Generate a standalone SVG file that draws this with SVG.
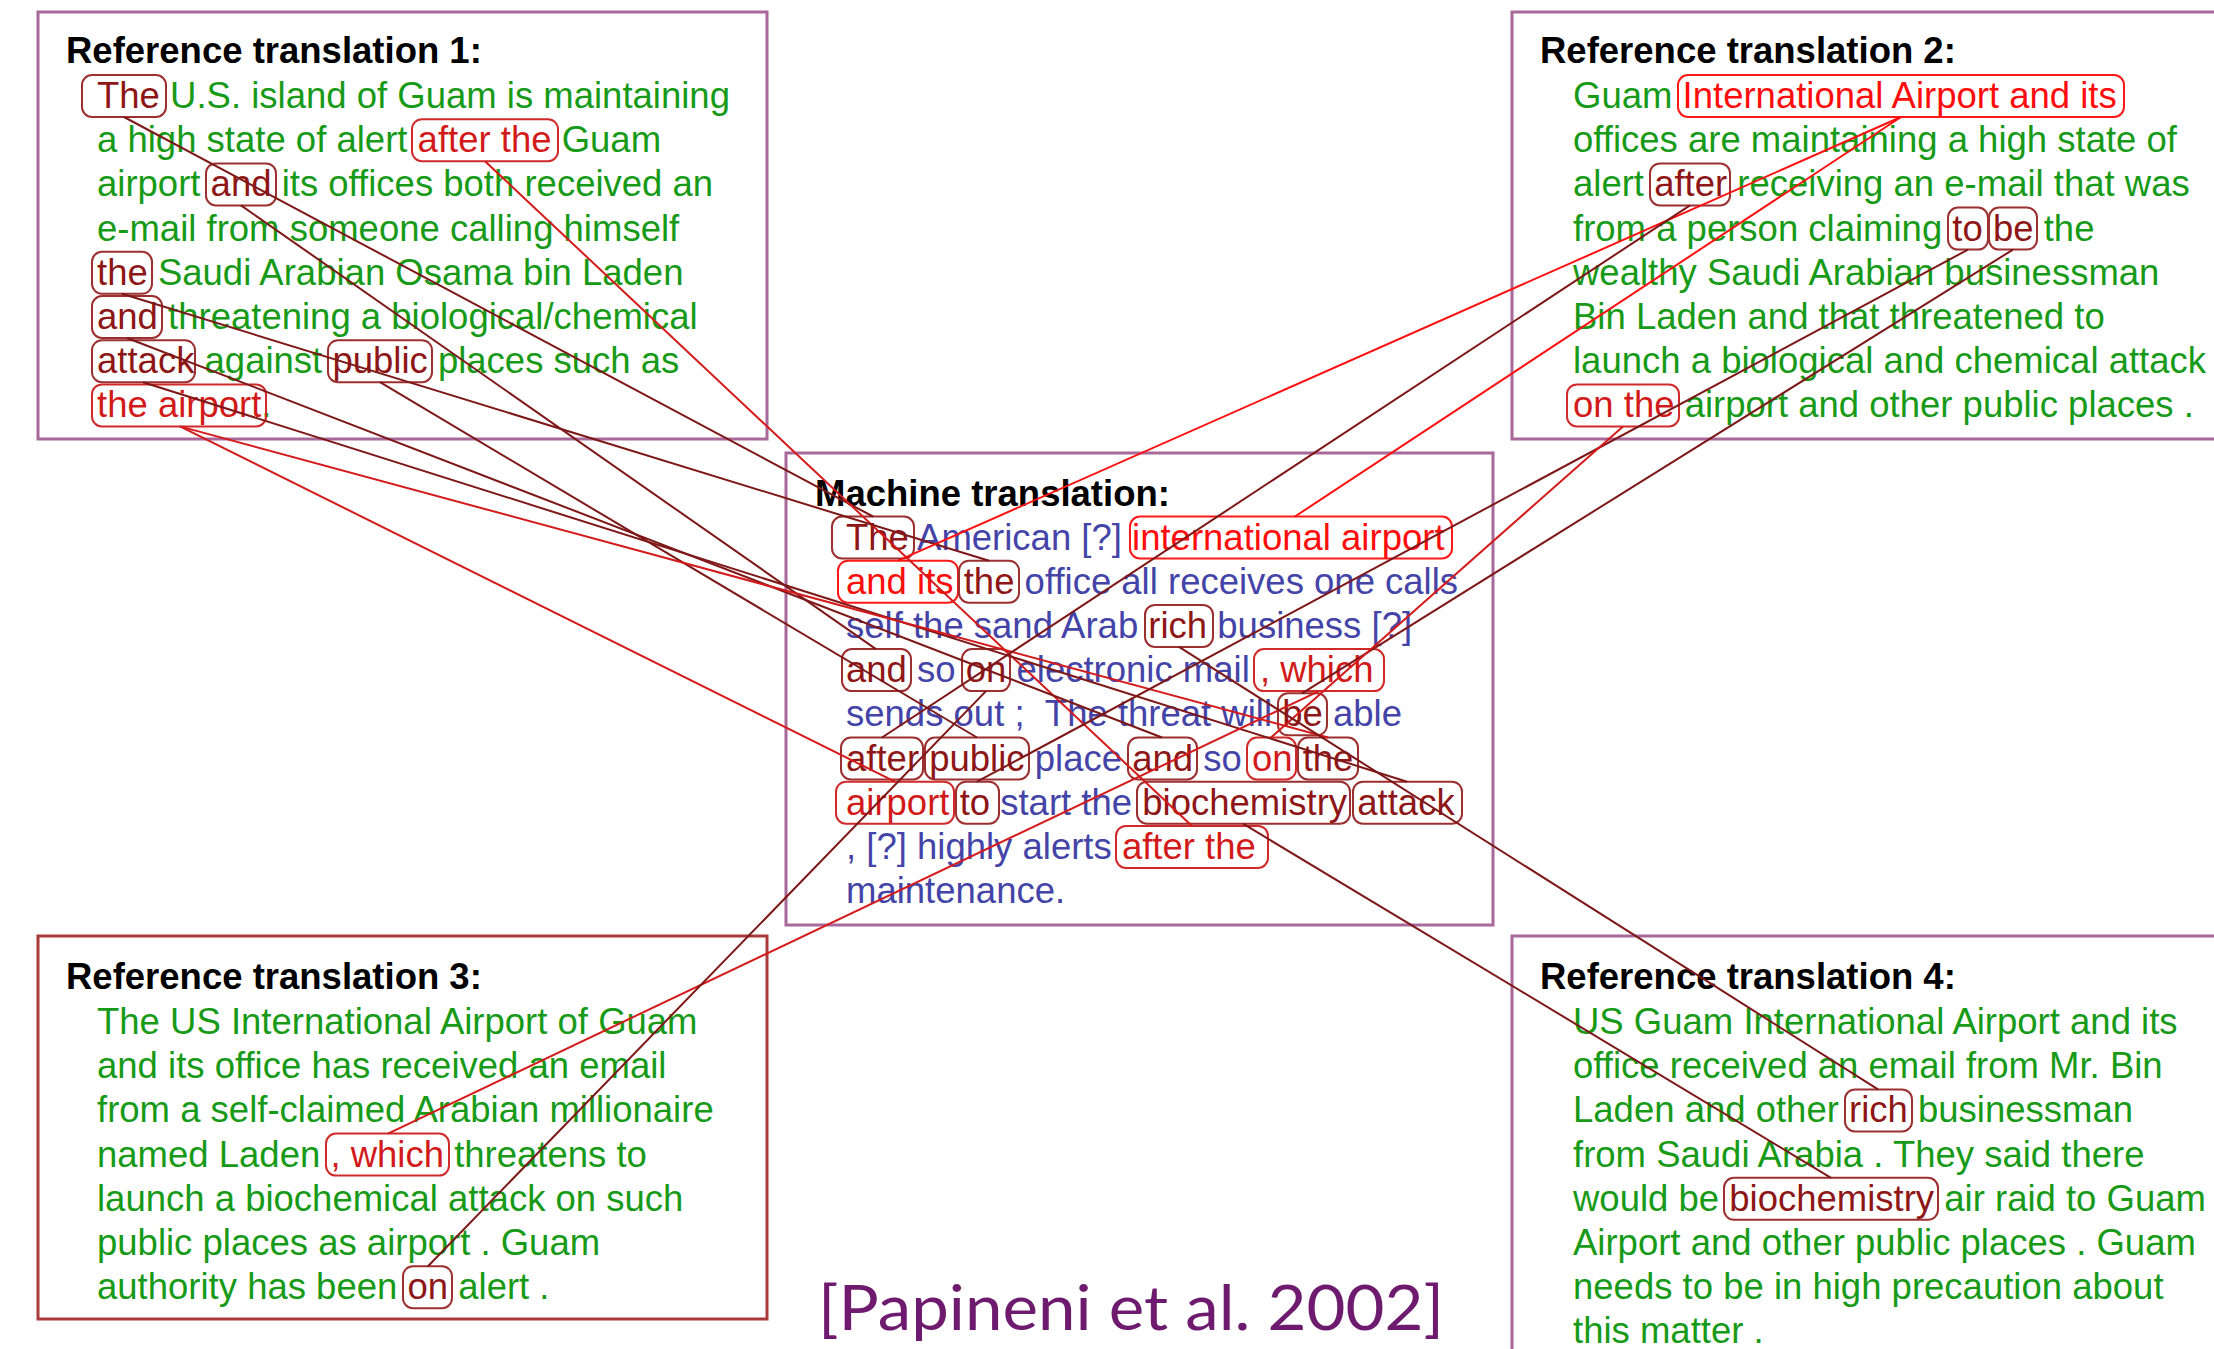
<svg xmlns="http://www.w3.org/2000/svg" width="2214" height="1349" viewBox="0 0 2214 1349">
  <style>
    .frame { fill: none; stroke: #a8689a; stroke-width: 3; }
    .frame3 { fill: none; stroke: #a83a3a; stroke-width: 3; }
    text { font-family: "Liberation Sans", Arial, sans-serif; font-size: 36.5px; }
    .title { font-weight: bold; fill: #000; }
    .ref { fill: #179a17; }
    .mt { fill: #4444a8; }
    .u { fill: #8e1616; }
    .b { fill: #d21a1a; }
    .q { fill: #ff0d0d; }
    rect.u { fill: none; stroke: #9c2f2f; stroke-width: 2; }
    rect.b { fill: none; stroke: #d02a2a; stroke-width: 2; }
    rect.q { fill: none; stroke: #ff1a1a; stroke-width: 2; }
    .cap { font-family: Lato, "Open Sans", sans-serif; font-size: 62px; fill: #6e1a6e; }
    #links line { stroke-width: 2; }
    #links .lu { stroke: #7e1717; }
    #links .lb { stroke: #d41a1a; }
    #links .lq { stroke: #ff1010; }
  </style>

  <!-- Reference translation 1 -->
  <g id="ref1">
    <rect class="frame" x="38" y="12" width="729" height="427"/>
    <text class="title" x="66" y="63">Reference translation 1:</text>
    <text class="ref" x="97" y="108"><tspan class="u">The</tspan> U.S. island of Guam is maintaining</text>
    <text class="ref" x="97" y="152.2">a high state of alert <tspan class="b">after the</tspan> Guam</text>
    <text class="ref" x="97" y="196.4">airport <tspan class="u">and</tspan> its offices both received an</text>
    <text class="ref" x="97" y="240.6">e-mail from someone calling himself</text>
    <text class="ref" x="97" y="284.8"><tspan class="u">the</tspan> Saudi Arabian Osama bin Laden</text>
    <text class="ref" x="97" y="329"><tspan class="u">and</tspan> threatening a biological/chemical</text>
    <text class="ref" x="97" y="373.2"><tspan class="u">attack</tspan> against <tspan class="u">public</tspan> places such as</text>
    <text class="ref" x="97" y="417.4"><tspan class="b">the airport</tspan>.</text>
    <rect class="u" x="82" y="75" width="84" height="42" rx="10"/>
    <rect class="b" x="412" y="119.2" width="146" height="42" rx="10"/>
    <rect class="u" x="206" y="163.4" width="70" height="42" rx="10"/>
    <rect class="u" x="92" y="251.8" width="60" height="42" rx="10"/>
    <rect class="u" x="92" y="296" width="70" height="42" rx="10"/>
    <rect class="u" x="92" y="340.2" width="103" height="42" rx="10"/>
    <rect class="u" x="328" y="340.2" width="104" height="42" rx="10"/>
    <rect class="b" x="92" y="384.4" width="174" height="42" rx="10"/>
  </g>

  <!-- Reference translation 2 -->
  <g id="ref2">
    <rect class="frame" x="1512" y="12" width="720" height="427"/>
    <text class="title" x="1540" y="63">Reference translation 2:</text>
    <text class="ref" x="1573" y="108">Guam <tspan class="q">International Airport and its</tspan></text>
    <text class="ref" x="1573" y="152.2">offices are maintaining a high state of</text>
    <text class="ref" x="1573" y="196.4">alert <tspan class="u">after</tspan> receiving an e-mail that was</text>
    <text class="ref" x="1573" y="240.6">from a person claiming <tspan class="u">to</tspan> <tspan class="u">be</tspan> the</text>
    <text class="ref" x="1573" y="284.8">wealthy Saudi Arabian businessman</text>
    <text class="ref" x="1573" y="329">Bin Laden and that threatened to</text>
    <text class="ref" x="1573" y="373.2">launch a biological and chemical attack</text>
    <text class="ref" x="1573" y="417.4"><tspan class="b">on the</tspan> airport and other public places .</text>
    <rect class="q" x="1678" y="75" width="446" height="42" rx="10"/>
    <rect class="u" x="1650" y="163.4" width="80" height="42" rx="10"/>
    <rect class="u" x="1948" y="207.6" width="40" height="42" rx="10"/>
    <rect class="u" x="1989" y="207.6" width="48" height="42" rx="10"/>
    <rect class="b" x="1567" y="384.4" width="112" height="42" rx="10"/>
  </g>

  <!-- Machine translation -->
  <g id="machine">
    <rect class="frame" x="786" y="453" width="707" height="472"/>
    <text class="title" x="815" y="506">Machine translation:</text>
    <text class="mt" x="846" y="549.5"><tspan class="u">The</tspan> American [?] <tspan class="q">international airport</tspan></text>
    <text class="mt" x="846" y="593.7"><tspan class="q">and its</tspan> <tspan class="u">the</tspan> office all receives one calls</text>
    <text class="mt" x="846" y="637.9">self the sand Arab <tspan class="u">rich</tspan> business [?]</text>
    <text class="mt" x="846" y="682.1"><tspan class="u">and</tspan> so <tspan class="u">on</tspan> electronic mail <tspan class="b">, which</tspan></text>
    <text class="mt" x="846" y="726.3">sends out ; &#160;The threat will <tspan class="u">be</tspan> able</text>
    <text class="mt" x="846" y="770.5"><tspan class="u">after</tspan> <tspan class="u">public</tspan> place <tspan class="u">and</tspan> so <tspan class="b">on</tspan> <tspan class="u">the</tspan></text>
    <text class="mt" x="846" y="814.7"><tspan class="b">airport</tspan> <tspan class="u">to</tspan> start the <tspan class="u">biochemistry</tspan> <tspan class="u">attack</tspan></text>
    <text class="mt" x="846" y="858.9">, [?] highly alerts <tspan class="b">after the</tspan></text>
    <text class="mt" x="846" y="903.1">maintenance.</text>
    <rect class="u" x="832" y="516.5" width="82" height="42" rx="10"/>
    <rect class="q" x="1130" y="516.5" width="322" height="42" rx="10"/>
    <rect class="q" x="838" y="560.7" width="120" height="42" rx="10"/>
    <rect class="u" x="959" y="560.7" width="60" height="42" rx="10"/>
    <rect class="u" x="1145" y="604.9" width="68" height="42" rx="10"/>
    <rect class="u" x="842" y="649.1" width="69" height="42" rx="10"/>
    <rect class="u" x="962" y="649.1" width="48" height="42" rx="10"/>
    <rect class="b" x="1254" y="649.1" width="130" height="42" rx="10"/>
    <rect class="u" x="1278" y="693.3" width="49" height="42" rx="10"/>
    <rect class="u" x="841" y="737.5" width="82" height="42" rx="10"/>
    <rect class="u" x="925" y="737.5" width="104" height="42" rx="10"/>
    <rect class="u" x="1128" y="737.5" width="69" height="42" rx="10"/>
    <rect class="b" x="1247" y="737.5" width="49" height="42" rx="10"/>
    <rect class="u" x="1298" y="737.5" width="60" height="42" rx="10"/>
    <rect class="b" x="836" y="781.7" width="118" height="42" rx="10"/>
    <rect class="u" x="956" y="781.7" width="43" height="42" rx="10"/>
    <rect class="u" x="1137" y="781.7" width="213" height="42" rx="10"/>
    <rect class="u" x="1353" y="781.7" width="109" height="42" rx="10"/>
    <rect class="b" x="1116" y="825.9" width="152" height="42" rx="10"/>
  </g>

  <!-- Reference translation 3 -->
  <g id="ref3">
    <rect class="frame3" x="38" y="936" width="729" height="383"/>
    <text class="title" x="66" y="989">Reference translation 3:</text>
    <text class="ref" x="97" y="1034">The US International Airport of Guam</text>
    <text class="ref" x="97" y="1078.2">and its office has received an email</text>
    <text class="ref" x="97" y="1122.4">from a self-claimed Arabian millionaire</text>
    <text class="ref" x="97" y="1166.6">named Laden <tspan class="b">, which</tspan> threatens to</text>
    <text class="ref" x="97" y="1210.8">launch a biochemical attack on such</text>
    <text class="ref" x="97" y="1255">public places as airport . Guam</text>
    <text class="ref" x="97" y="1299.2">authority has been <tspan class="u">on</tspan> alert .</text>
    <rect class="b" x="326" y="1133.6" width="123" height="42" rx="10"/>
    <rect class="u" x="403" y="1266.2" width="49" height="42" rx="10"/>
  </g>

  <!-- Reference translation 4 -->
  <g id="ref4">
    <rect class="frame" x="1512" y="936" width="720" height="440"/>
    <text class="title" x="1540" y="989">Reference translation 4:</text>
    <text class="ref" x="1573" y="1034">US Guam International Airport and its</text>
    <text class="ref" x="1573" y="1078.2">office received an email from Mr. Bin</text>
    <text class="ref" x="1573" y="1122.4">Laden and other <tspan class="u">rich</tspan> businessman</text>
    <text class="ref" x="1573" y="1166.6">from Saudi Arabia . They said there</text>
    <text class="ref" x="1573" y="1210.8">would be <tspan class="u">biochemistry</tspan> air raid to Guam</text>
    <text class="ref" x="1573" y="1255">Airport and other public places . Guam</text>
    <text class="ref" x="1573" y="1299.2">needs to be in high precaution about</text>
    <text class="ref" x="1573" y="1343.4">this matter .</text>
    <rect class="u" x="1845" y="1089.4" width="67" height="42" rx="10"/>
    <rect class="u" x="1724" y="1177.8" width="214" height="42" rx="10"/>
  </g>

  <!-- Citation -->
  <g id="citation">
    <text class="cap" x="818" y="1330" textLength="626" lengthAdjust="spacingAndGlyphs">[Papineni et al. 2002]</text>
  </g>

  <!-- Word alignment links between the translations -->
  <g id="links">
    <line class="lu" x1="124" y1="117" x2="873" y2="516.5"/>
    <line class="lb" x1="485" y1="161.2" x2="1192" y2="825.9"/>
    <line class="lu" x1="241" y1="205.4" x2="876" y2="649.1"/>
    <line class="lu" x1="122" y1="293.8" x2="989" y2="560.7"/>
    <line class="lu" x1="127" y1="338" x2="1162" y2="737.5"/>
    <line class="lu" x1="143" y1="382.2" x2="1407" y2="781.7"/>
    <line class="lu" x1="380" y1="382.2" x2="977" y2="737.5"/>
    <line class="lb" x1="180" y1="426.4" x2="895" y2="781.7"/>
    <line class="lb" x1="180" y1="426.4" x2="1328" y2="737.5"/>
    <line class="lq" x1="1901" y1="117" x2="1295" y2="516.5"/>
    <line class="lq" x1="1901" y1="117" x2="898" y2="560.7"/>
    <line class="lu" x1="1690" y1="205.4" x2="882" y2="737.5"/>
    <line class="lu" x1="1968" y1="249.6" x2="977" y2="781.7"/>
    <line class="lu" x1="2013" y1="249.6" x2="1302" y2="693.3"/>
    <line class="lb" x1="1623" y1="426.4" x2="1271" y2="737.5"/>
    <line class="lb" x1="388" y1="1133.6" x2="1319" y2="691.1"/>
    <line class="lu" x1="428" y1="1266.2" x2="986" y2="691.1"/>
    <line class="lu" x1="1179" y1="646.9" x2="1878" y2="1089.4"/>
    <line class="lu" x1="1243" y1="823.7" x2="1831" y2="1177.8"/>
  </g>
</svg>
